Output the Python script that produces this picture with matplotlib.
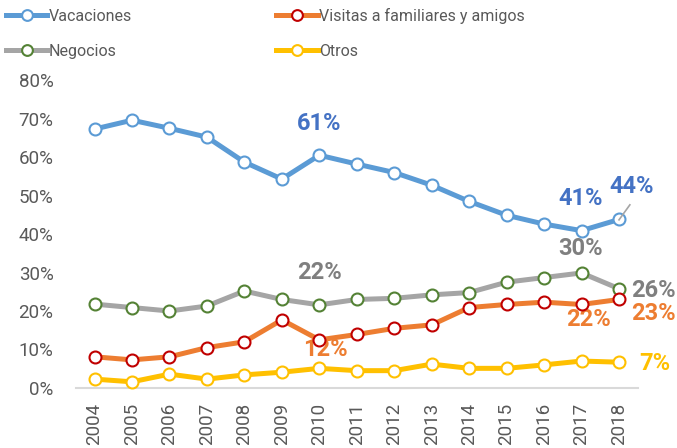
import matplotlib
matplotlib.use('Agg')
from matplotlib import pyplot as plt
import numpy as np

plt.rcParams['font.family'] = ['Roboto', 'DejaVu Sans']

years = ['2004', '2005', '2006', '2007', '2008', '2009', '2010', '2011',
         '2012', '2013', '2014', '2015', '2016', '2017', '2018']
vacaciones = [67.3, 69.6, 67.5, 65.2, 58.7, 54.3, 60.5, 58.2, 56.0, 52.7,
              48.5, 44.9, 42.6, 40.9, 43.8]
visitas = [8.1, 7.3, 8.1, 10.5, 12.0, 17.7, 12.5, 13.9, 15.5, 16.4,
           20.9, 21.7, 22.3, 21.7, 23.0]
negocios = [21.8, 20.9, 20.0, 21.3, 25.2, 23.0, 21.6, 23.0, 23.3, 24.2,
            24.8, 27.5, 28.7, 29.9, 25.8]
otros = [2.3, 1.6, 3.6, 2.3, 3.4, 4.1, 5.1, 4.5, 4.5, 6.2,
         5.1, 5.1, 6.0, 7.0, 6.7]
y_ticks = [0, 10, 20, 30, 40, 50, 60, 70, 80]

text_gray = '#595959'
series = [
    ('Vacaciones', vacaciones, '#5B9BD5', '#5B9BD5'),
    ('Negocios', negocios, '#A5A5A5', '#548235'),
    ('Visitas a familiares y amigos', visitas, '#ED7D31', '#C00000'),
    ('Otros', otros, '#FFC000', '#FFC000'),
]

fig = plt.figure(figsize=(6.77, 4.48), dpi=100)
ax = fig.add_axes([0.112, 0.134, 0.830, 0.687])
x = np.arange(len(years))

handles = []
for name, vals, color, edge in series:
    h, = ax.plot(x, vals, color=color, lw=3.6, marker='o', markersize=8.6,
                 markerfacecolor='white', markeredgecolor=edge,
                 markeredgewidth=1.5, label=name, zorder=3, clip_on=False)
    handles.append(h)

ax.set_xlim(-0.5, len(years) - 0.5)
ax.set_ylim(0, 80)
ax.set_yticks(y_ticks)
ax.set_yticklabels(['%d%%' % v for v in y_ticks])
ax.set_xticks(x)
ax.set_xticklabels(years, rotation=90)
ax.tick_params(axis='y', length=0, pad=16, labelsize=13.5, labelcolor=text_gray)
ax.tick_params(axis='x', length=0, pad=11, labelsize=13.5, labelcolor=text_gray)
for side in ['top', 'right', 'left']:
    ax.spines[side].set_visible(False)
ax.spines['bottom'].set_color('#D9D9D9')
ax.spines['bottom'].set_linewidth(1.5)

# data labels
blue, gray, orange, yellow = '#4472C4', '#7F7F7F', '#ED7D31', '#FFC000'
labels = [
    ('61%', 6.0, 68.8, blue),
    ('22%', 6.0, 30.1, gray),
    ('12%', 6.17, 9.9, orange),
    ('41%', 12.97, 49.3, blue),
    ('44%', 14.33, 52.3, blue),
    ('30%', 12.97, 36.3, gray),
    ('26%', 14.92, 25.3, gray),
    ('23%', 14.92, 19.4, orange),
    ('22%', 13.19, 17.7, orange),
    ('7%', 14.96, 6.4, yellow),
]
for txt, lx, ly, c in labels:
    ax.text(lx, ly, txt, color=c, fontsize=17, fontweight='bold',
            ha='center', va='center', zorder=2)
ax.plot([14.29, 14.0], [47.6, 43.7], color='#A5A5A5', lw=1.2, zorder=4,
        clip_on=False)

fig.legend(handles=handles, loc='upper left', bbox_to_anchor=(-0.003, 1.0),
           ncol=2, frameon=False, fontsize=11.5, labelcolor=text_gray,
           handlelength=2.6, handletextpad=0.1, columnspacing=9.0,
           labelspacing=1.25, borderaxespad=0.1, markerscale=0.9)

fig.savefig('out.png', dpi=100)
